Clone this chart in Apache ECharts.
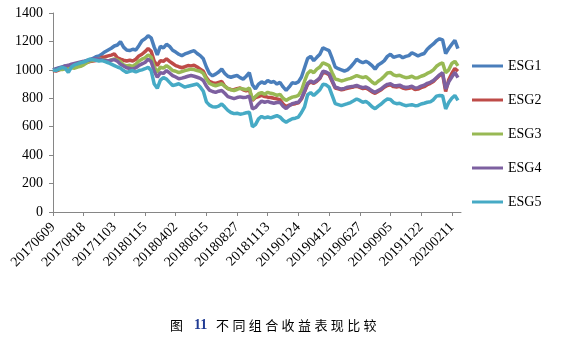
<!DOCTYPE html>
<html>
<head>
<meta charset="utf-8">
<script src="https://cdn.jsdelivr.net/npm/echarts@6/dist/echarts.min.js"></script>
<style>
html,body{margin:0;padding:0;background:#fff;}
#c{width:563px;height:346px;}
</style>
</head>
<body>
<div id="c"></div>
<script>
// Tick labels (trading-day index 0, 50, 100, ...)
const dateLabels = ['20170609','20170818','20171103','20180115','20180402','20180615','20180827','20181113','20190124','20190412','20190627','20190905','20191122','20200211'];
const seriesNames = ['ESG1','ESG2','ESG3','ESG4','ESG5'];
// Samples every 5 trading days
const STEP = 5;
const esg1 = [1000,1008,1015,1020,1028,1025,1035,1030,1042,1040,
1055,1062,1072,1080,1092,1098,1112,1128,1140,1152,
1168,1175,1198,1160,1140,1135,1145,1140,1170,1205,
1218,1240,1225,1160,1105,1165,1155,1180,1165,1138,
1125,1110,1100,1112,1120,1128,1135,1115,1100,1078,
1020,975,958,970,985,1005,975,955,948,955,
960,945,935,955,980,895,866,900,915,905,
925,912,918,900,912,880,856,880,910,905,
915,950,1015,1080,1095,1065,1088,1110,1155,1145,
1135,1080,1020,1008,1000,992,1000,1020,1045,1075,
1060,1050,1060,1048,1030,1005,1035,1048,1065,1095,
1110,1088,1095,1100,1085,1095,1100,1120,1110,1098,
1108,1115,1145,1165,1182,1205,1218,1210,1115,1150,
1180,1208,1150];
const esg2 = [995,992,1000,1008,1015,1018,1025,1030,1035,1040,
1045,1052,1058,1062,1066,1075,1088,1092,1098,1104,
1112,1085,1075,1068,1062,1068,1062,1075,1098,1110,
1128,1150,1130,1060,1030,1065,1060,1078,1060,1045,
1030,1022,1015,1022,1030,1028,1032,1020,1005,990,
945,918,910,905,912,918,885,868,862,860,
868,872,860,852,862,785,805,812,820,812,
808,805,800,796,790,760,740,752,758,762,
768,795,845,898,915,905,920,940,982,978,
965,918,872,866,860,864,870,876,880,885,
876,868,872,860,845,835,848,860,878,890,
895,882,880,884,872,866,870,876,862,865,
875,882,895,905,918,940,960,972,848,930,
975,1010,990];
const esg3 = [1000,998,1005,1002,1008,1005,1015,1012,1020,1025,
1035,1050,1062,1068,1072,1078,1072,1068,1062,1070,
1076,1070,1058,1035,1028,1032,1025,1040,1062,1075,
1085,1105,1090,1020,985,1018,1012,1030,1015,995,
990,980,988,995,1000,1005,1002,995,990,975,
935,905,895,888,895,902,885,868,860,855,
862,870,865,860,872,790,812,832,840,828,
842,835,830,820,828,800,785,798,808,812,
820,855,920,975,995,980,1005,1020,1050,1040,
1030,980,935,930,922,928,935,940,950,960,
952,945,952,935,915,900,920,935,955,978,
982,965,958,962,952,945,948,955,942,945,
955,962,975,985,1000,1025,1040,1050,980,1000,
1045,1060,1028];
const esg4 = [1000,1005,1012,1018,1028,1032,1040,1045,1050,1055,
1060,1066,1070,1075,1078,1076,1070,1066,1062,1068,
1072,1060,1040,1028,1015,1010,1005,1015,1030,1042,
1052,1075,1058,990,948,980,975,995,978,960,
950,938,942,948,955,960,955,948,940,925,
885,858,848,842,850,855,835,812,805,798,
805,810,805,808,815,725,735,760,780,772,
778,770,765,770,772,745,728,748,762,768,
772,800,850,905,922,910,925,945,990,985,
972,925,878,872,865,870,878,882,885,890,
882,875,880,868,852,842,855,866,885,898,
902,890,888,892,882,876,880,885,872,875,
885,892,905,912,925,945,965,980,865,915,
950,982,945];
const esg5 = [1000,995,1008,1018,1010,982,1020,1035,1042,1050,
1055,1065,1075,1072,1068,1062,1065,1058,1050,1040,
1030,1020,1012,995,982,990,995,985,995,1000,
1008,1018,995,900,870,928,945,935,912,890,
895,902,890,878,885,890,895,900,880,850,
775,752,740,738,745,760,738,715,700,692,
695,688,692,698,702,600,615,655,672,662,
668,662,670,678,668,645,632,645,656,660,
668,700,740,825,840,820,840,860,898,895,
878,820,762,755,748,755,762,770,782,795,
785,772,778,762,740,726,745,760,780,795,
792,770,762,765,755,748,752,755,748,750,
760,765,772,775,790,815,820,818,725,770,
800,820,785];
const colors = ['#4A7EBB','#BE4B48','#98B954','#7D60A0','#46AAC5'];

const allData = [esg1, esg2, esg3, esg4, esg5];
const tickVals = dateLabels.map((d, k) => k * 50);

const chart = echarts.init(document.getElementById('c'), null, {renderer: 'canvas'});

// caption characters
const capChars = '不同组合收益表现比较'.split('');
const graphics = [
  {type: 'text', left: 170, top: 319, style: {text: '图', font: '13px "Noto Sans CJK SC"', fill: '#000'}},
  {type: 'text', left: 194, top: 318, style: {text: '11', font: 'bold 14px "Liberation Serif"', fill: '#1F3A93'}}
];
capChars.forEach((ch, k) => {
  graphics.push({type: 'text', left: 216 + k * 16.4, top: 319, style: {text: ch, font: '13px "Noto Sans CJK SC"', fill: '#000'}});
});

chart.setOption({
  animation: false,
  backgroundColor: '#fff',
  color: colors,
  textStyle: {fontFamily: '"Liberation Serif", "Times New Roman", serif'},
  grid: {left: 53, top: 13, width: 408, height: 199, containLabel: false},
  legend: {
    orient: 'vertical', left: 467, top: 54, itemGap: 20,
    icon: 'rect', itemWidth: 31, itemHeight: 3,
    textStyle: {fontFamily: '"Liberation Serif", serif', fontSize: 14, color: '#000'},
    data: seriesNames
  },
  xAxis: {
    type: 'value', min: 0, max: 665,
    axisLine: {lineStyle: {color: '#868686', width: 1}},
    axisTick: {show: true, length: 4, customValues: tickVals, lineStyle: {color: '#868686'}},
    splitLine: {show: false},
    axisLabel: {
      customValues: tickVals, rotate: 45, margin: 13,
      fontFamily: '"Liberation Serif", serif', fontSize: 14, color: '#000',
      formatter: v => dateLabels[Math.round(v / 50)] || ''
    }
  },
  yAxis: {
    type: 'value', min: 0, max: 1400, interval: 200,
    axisLine: {show: true, lineStyle: {color: '#868686', width: 1}},
    axisTick: {show: true, length: 4, lineStyle: {color: '#868686'}},
    splitLine: {show: false},
    axisLabel: {margin: 10, fontFamily: '"Liberation Serif", serif', fontSize: 14, color: '#000',
      formatter: v => String(v)}
  },
  series: allData.map((arr, s) => ({
    name: seriesNames[s], type: 'line', showSymbol: false, symbol: 'none',
    lineStyle: {width: 3.5, color: colors[s]},
    itemStyle: {color: colors[s]},
    data: arr.map((v, i) => [i * STEP, v])
  })),
  graphic: graphics
});
</script>
</body>
</html>
